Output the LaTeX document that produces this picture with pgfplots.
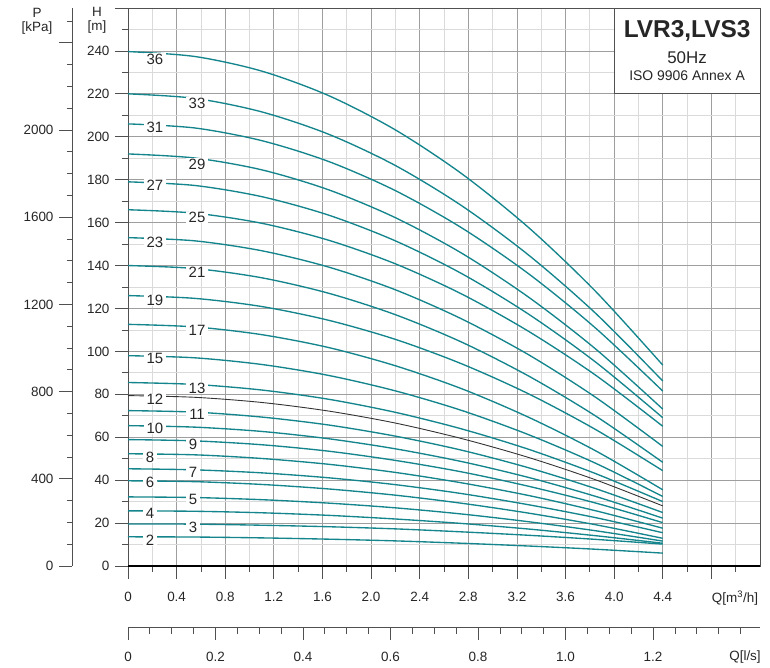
\documentclass[border=0pt]{standalone}
\usepackage{fontspec}
\setmainfont{Liberation Sans}
\usepackage{pgfplots}
\pgfplotsset{compat=1.18}
\definecolor{curve}{RGB}{20,133,140}
\definecolor{gmaj}{RGB}{158,158,158}
\definecolor{gmin}{RGB}{218,218,218}
\definecolor{axc}{RGB}{80,80,80}
\tikzset{
  ck/.style={curve, line width=1.35bp, smooth},
  tl/.style={font=\fontsize{13.5}{15}\selectfont, text=black!85},
  lb/.style={fill=white, inner xsep=3bp, inner ysep=0.5bp, font=\fontsize{15}{17}\selectfont, text=black!85},
}
\begin{document}
\begin{tikzpicture}
% ---------- main axis (H [m] vs Q [m3/h]) ----------
\begin{axis}[
  scale only axis, width=632bp, height=558bp,
  xmin=0, xmax=5.2, ymin=0, ymax=260,
  clip=false,
  /pgf/number format/assume math mode=true,
  axis line style={draw=axc, line width=0.9bp},
  xtick={0,0.4,0.8,1.2,1.6,2.0,2.4,2.8,3.2,3.6,4.0,4.4,4.8},
  xticklabels={0,0.4,0.8,1.2,1.6,2.0,2.4,2.8,3.2,3.6,4.0,4.4,{}},
  minor xtick={0.2,0.6,1.0,1.4,1.8,2.2,2.6,3.0,3.4,3.8,4.2,4.6,5.0},
  ytick={0,20,40,60,80,100,120,140,160,180,200,220,240,260},
  yticklabels={0,20,40,60,80,100,120,140,160,180,200,220,240,{}},
  minor ytick={10,30,50,70,90,110,130,150,170,190,210,230,250},
  grid=both,
  major grid style={gmaj, line width=0.8bp},
  minor grid style={gmin, line width=0.8bp},
  tick align=outside, tick pos=left,
  major tick length=13bp, minor tick length=6bp,
  tick style={axc, line width=0.8bp},
  tick label style={font=\fontsize{13.5}{15}\selectfont, text=black!85},
  xticklabel style={yshift=-10bp},
  yticklabel style={xshift=-2bp},
]
\addplot[ck] coordinates {(0,239.7)(0.55,237.4)(1.1,230.6)(1.65,219.2)(2.2,203.2)(2.75,182.6)(3.3,157.5)(3.85,127.8)(4.4,93.6)};
\addplot[ck] coordinates {(0,220)(0.55,217.9)(1.1,211.6)(1.65,201.2)(2.2,186.6)(2.75,167.7)(3.3,144.7)(3.85,117.6)(4.4,86.2)};
\addplot[ck] coordinates {(0,206)(0.55,204.1)(1.1,198.2)(1.65,188.5)(2.2,174.9)(2.75,157.4)(3.3,136.0)(3.85,110.7)(4.4,81.5)};
\addplot[ck] coordinates {(0,192)(0.55,190.1)(1.1,184.6)(1.65,175.3)(2.2,162.3)(2.75,145.6)(3.3,125.1)(3.85,101.0)(4.4,73.1)};
\addplot[ck] coordinates {(0,179)(0.55,177.3)(1.1,172.1)(1.65,163.5)(2.2,151.5)(2.75,136.1)(3.3,117.2)(3.85,94.9)(4.4,69.1)};
\addplot[ck] coordinates {(0,166)(0.55,164.4)(1.1,159.7)(1.65,151.8)(2.2,140.8)(2.75,126.6)(3.3,109.2)(3.85,88.8)(4.4,65.1)};
\addplot[ck] coordinates {(0,153)(0.55,151.5)(1.1,146.9)(1.65,139.3)(2.2,128.7)(2.75,115.0)(3.3,98.3)(3.85,78.5)(4.4,55.7)};
\addplot[ck] coordinates {(0,140)(0.55,138.6)(1.1,134.3)(1.65,127.1)(2.2,117.1)(2.75,104.2)(3.3,88.4)(3.85,69.8)(4.4,48.3)};
\addplot[ck] coordinates {(0,126)(0.55,124.7)(1.1,120.9)(1.65,114.5)(2.2,105.6)(2.75,94.1)(3.3,80.1)(3.85,63.5)(4.4,44.4)};
\addplot[ck] coordinates {(0,112.6)(0.55,111.4)(1.1,107.8)(1.65,101.8)(2.2,93.3)(2.75,82.5)(3.3,69.2)(3.85,53.6)(4.4,35.5)};
\addplot[ck] coordinates {(0,98)(0.55,97.0)(1.1,93.9)(1.65,88.8)(2.2,81.6)(2.75,72.4)(3.3,61.1)(3.85,47.8)(4.4,32.4)};
\addplot[ck] coordinates {(0,85.5)(0.55,84.6)(1.1,82.0)(1.65,77.7)(2.2,71.6)(2.75,63.8)(3.3,54.3)(3.85,43.0)(4.4,30.0)};
\addplot[black!80, line width=0.9bp, smooth] coordinates {(0,79.4)(0.55,78.6)(1.1,76.2)(1.65,72.2)(2.2,66.6)(2.75,59.3)(3.3,50.5)(3.85,40.1)(4.4,28.0)};
\addplot[ck] coordinates {(0,72.4)(0.55,71.7)(1.1,69.4)(1.65,65.7)(2.2,60.5)(2.75,53.9)(3.3,45.7)(3.85,36.0)(4.4,24.9)};
\addplot[ck] coordinates {(0,65.4)(0.55,64.7)(1.1,62.7)(1.65,59.3)(2.2,54.6)(2.75,48.6)(3.3,41.2)(3.85,32.4)(4.4,22.3)};
\addplot[ck] coordinates {(0,58.9)(0.55,58.3)(1.1,56.5)(1.65,53.5)(2.2,49.2)(2.75,43.8)(3.3,37.1)(3.85,29.3)(4.4,20.2)};
\addplot[ck] coordinates {(0,52.3)(0.55,51.8)(1.1,50.1)(1.65,47.4)(2.2,43.6)(2.75,38.7)(3.3,32.8)(3.85,25.7)(4.4,17.6)};
\addplot[ck] coordinates {(0,45.3)(0.55,44.8)(1.1,43.4)(1.65,41.1)(2.2,37.9)(2.75,33.7)(3.3,28.5)(3.85,22.5)(4.4,15.5)};
\addplot[ck] coordinates {(0,39.7)(0.55,39.3)(1.1,38.0)(1.65,35.9)(2.2,33.0)(2.75,29.2)(3.3,24.6)(3.85,19.2)(4.4,12.9)};
\addplot[ck] coordinates {(0,32.2)(0.55,31.9)(1.1,30.9)(1.65,29.3)(2.2,27.1)(2.75,24.2)(3.3,20.6)(3.85,16.4)(4.4,11.6)};
\addplot[ck] coordinates {(0,25.7)(0.55,25.5)(1.1,24.8)(1.65,23.6)(2.2,21.9)(2.75,19.8)(3.3,17.2)(3.85,14.1)(4.4,10.6)};
\addplot[ck] coordinates {(0,19.6)(0.55,19.5)(1.1,19.0)(1.65,18.3)(2.2,17.3)(2.75,15.9)(3.3,14.3)(3.85,12.4)(4.4,10.2)};
\addplot[ck] coordinates {(0,13.6)(0.55,13.5)(1.1,13.1)(1.65,12.5)(2.2,11.7)(2.75,10.6)(3.3,9.3)(3.85,7.8)(4.4,6.0)};
% curve labels
\node[lb] at (axis cs:0.222,236.3) {36};
\node[lb] at (axis cs:0.568,215.7) {33};
\node[lb] at (axis cs:0.222,204.3) {31};
\node[lb] at (axis cs:0.568,187.3) {29};
\node[lb] at (axis cs:0.222,177.5) {27};
\node[lb] at (axis cs:0.568,162.3) {25};
\node[lb] at (axis cs:0.222,151.0) {23};
\node[lb] at (axis cs:0.568,136.8) {21};
\node[lb] at (axis cs:0.222,123.7) {19};
\node[lb] at (axis cs:0.568,110.0) {17};
\node[lb] at (axis cs:0.222,96.5) {15};
\node[lb] at (axis cs:0.568,83.0) {13};
\node[lb] at (axis cs:0.222,77.6) {12};
\node[lb] at (axis cs:0.568,70.6) {11};
\node[lb] at (axis cs:0.222,64.1) {10};
\node[lb] at (axis cs:0.535,56.9) {9};
\node[lb] at (axis cs:0.181,50.6) {8};
\node[lb] at (axis cs:0.535,43.8) {7};
\node[lb] at (axis cs:0.181,38.9) {6};
\node[lb] at (axis cs:0.535,31.2) {5};
\node[lb] at (axis cs:0.181,24.5) {4};
\node[lb] at (axis cs:0.535,17.9) {3};
\node[lb] at (axis cs:0.181,11.9) {2};
% bottom heavy axis line
\draw[black, line width=2bp] (rel axis cs:0,0) -- (rel axis cs:1,0);
% title box
\draw[fill=white, draw=axc, line width=0.9bp] (axis cs:4.0,220) rectangle (axis cs:5.2,260);
\node[font=\bfseries\fontsize{24.5}{27}\selectfont, text=black!85] at (axis cs:4.6,249.3) {LVR3,LVS3};
\node[font=\fontsize{17}{20}\selectfont, text=black!85] at (axis cs:4.6,236.7) {50Hz};
\node[font=\fontsize{14}{16}\selectfont, text=black!85] at (axis cs:4.6,228.3) {ISO 9906 Annex A};
\end{axis}
% ---------- P axis (kPa) ----------
\begin{axis}[
  at={(-56bp,0)},
  scale only axis, width=10bp, height=558bp,
  xmin=0, xmax=1, ymin=0, ymax=2560,
  hide x axis, axis y line*=left,
  /pgf/number format/assume math mode=true,
  axis line style={draw=axc, line width=0.9bp, -},
  ytick={0,400,800,1200,1600,2000,2400},
  yticklabels={0,400,800,1200,1600,2000,{}},
  minor ytick={100,200,300,500,600,700,900,1000,1100,1300,1400,1500,1700,1800,1900,2100,2200,2300,2500},
  tick align=outside,
  major tick length=13bp, minor tick length=5bp,
  tick style={axc, line width=0.8bp},
  tick label style={font=\fontsize{13.5}{15}\selectfont, text=black!85},
  yticklabel style={xshift=-2bp},
]
\end{axis}
% ---------- l/s axis ----------
\begin{axis}[
  at={(0,-61bp)},
  scale only axis, width=632bp, height=10bp,
  xmin=0, xmax=1.444444, ymin=0, ymax=1,
  hide y axis, axis x line*=bottom,
  /pgf/number format/assume math mode=true,
  axis line style={draw=axc, line width=0.9bp, -},
  xtick={0,0.2,0.4,0.6,0.8,1.0,1.2},
  xticklabels={0,0.2,0.4,0.6,0.8,1.0,1.2},
  minor xtick={0.05,0.1,0.15,0.25,0.3,0.35,0.45,0.5,0.55,0.65,0.7,0.75,0.85,0.9,0.95,1.05,1.1,1.15,1.25,1.3,1.35,1.4},
  tick align=outside,
  major tick length=13bp, minor tick length=7bp,
  tick style={axc, line width=0.8bp},
  tick label style={font=\fontsize{13.5}{15}\selectfont, text=black!85},
  xticklabel style={yshift=-9bp},
]
\end{axis}
% axis titles and unit labels
\node[tl] at (607bp,-32bp) {Q[m\textsuperscript{3}/h]};
\node[tl] at (617bp,-91bp) {Q[l/s]};
\node[tl, align=center] at (-91bp,545bp) {P\\[-1bp][kPa]};
\node[tl, align=center] at (-31bp,546bp) {H\\[-1bp][m]};
\pgfresetboundingbox
\useasboundingbox (-128bp,-102bp) rectangle (642bp,566bp);
\end{tikzpicture}
\end{document}
